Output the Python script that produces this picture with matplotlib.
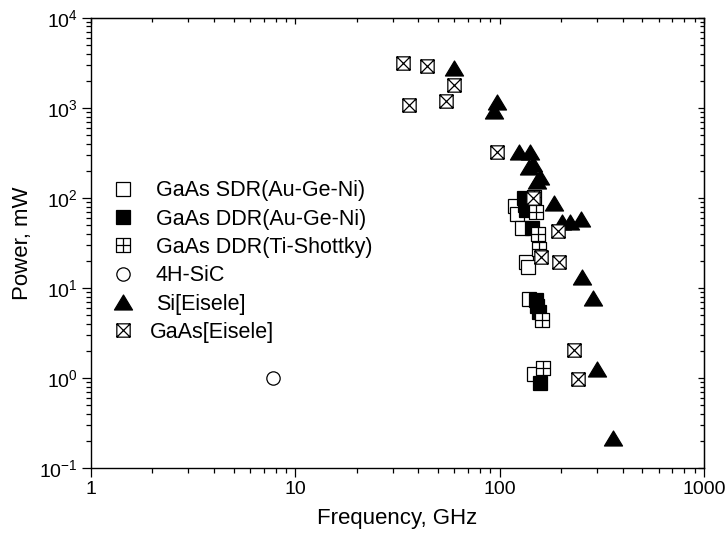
import numpy as np
import matplotlib
matplotlib.use("Agg")
import matplotlib.pyplot as plt
from matplotlib.path import Path

plt.rcParams['font.family'] = ['Liberation Sans', 'DejaVu Sans']
plt.rcParams['mathtext.fontset'] = 'custom'
plt.rcParams['mathtext.rm'] = 'Liberation Sans'
plt.rcParams['mathtext.it'] = 'Liberation Sans:italic'
plt.rcParams['mathtext.bf'] = 'Liberation Sans:bold'

# ---------------- data (frequency GHz, power mW) ----------------
sdr_f = [119, 122, 129, 134, 138, 139, 147]
sdr_p = [82, 67, 46, 19.6, 17.2, 7.6, 1.12]

ddr_f = [131, 133, 135, 144, 151, 153, 155, 157]
ddr_p = [100, 84, 73, 46, 7.4, 6.3, 5.4, 0.88]

ti_f = [148, 151, 154, 156, 161, 163]
ti_p = [103, 69, 40, 27, 4.4, 1.3]

sic_f = [7.75]
sic_p = [1.0]

si_f = [59.9, 97, 94, 124, 140, 139, 146, 157, 152, 184, 201, 220, 249, 253, 287, 298, 359]
si_p = [2750, 1150, 930, 324, 324, 222, 240, 172, 155, 88, 54.6, 54.6, 58, 13.2, 7.7, 1.26, 0.215]

ge_f = [33.5, 43.9, 59.9, 54.6, 35.9, 96.6, 146, 193, 160, 195, 232, 241]
ge_p = [3175, 2940, 1795, 1193, 1069, 326, 99, 43, 22.3, 19.6, 2.06, 0.97]

labels = ['GaAs SDR(Au-Ge-Ni)', 'GaAs DDR(Au-Ge-Ni)', 'GaAs DDR(Ti-Shottky)',
          '4H-SiC', 'Si[Eisele]', 'GaAs[Eisele]']

xticks = [1, 10, 100, 1000]
xticklabels = ['1', '10', '100', '1000']
yticks = [0.1, 1, 10, 100, 1000, 10000]
yticklabels = [r'$\mathregular{10^{-1}}$', r'$\mathregular{10^{0}}$', r'$\mathregular{10^{1}}$',
               r'$\mathregular{10^{2}}$', r'$\mathregular{10^{3}}$', r'$\mathregular{10^{4}}$']

# ---------------- markers ----------------
M, L, C = Path.MOVETO, Path.LINETO, Path.CLOSEPOLY
box_x = Path([(-1, -1), (1, -1), (1, 1), (-1, 1), (-1, -1),
              (-1, -1), (1, 1), (-1, 1), (1, -1)],
             [M, L, L, L, C, M, L, M, L])
box_plus = Path([(-1, -1), (1, -1), (1, 1), (-1, 1), (-1, -1),
                 (0, -1), (0, 1), (-1, 0), (1, 0)],
                [M, L, L, L, C, M, L, M, L])
tri = Path([(-1, -0.83), (1, -0.83), (0, 0.83), (-1, -0.83)], [M, L, L, C])

fig = plt.figure(figsize=(7.25, 5.38), dpi=100)
ax = fig.add_axes([0.1255, 0.1296, 0.8455, 0.8374])
ax.set_xscale('log')
ax.set_yscale('log')

ms = 9.6
mew = 0.9
ax.plot(sdr_f, sdr_p, ls='none', marker='s', ms=ms, mfc='white', mec='black', mew=mew, label=labels[0])
ax.plot(ddr_f, ddr_p, ls='none', marker='s', ms=ms, mfc='black', mec='black', mew=mew, label=labels[1])
ax.plot(ti_f, ti_p, ls='none', marker=box_plus, ms=ms, mfc='white', mec='black', mew=mew, label=labels[2])
ax.plot(sic_f, sic_p, ls='none', marker='o', ms=ms, mfc='white', mec='black', mew=mew, label=labels[3])
ax.plot(si_f, si_p, ls='none', marker=tri, ms=13, mfc='black', mec='black', mew=mew, label=labels[4])
ax.plot(ge_f, ge_p, ls='none', marker=box_x, ms=ms, mfc='white', mec='black', mew=mew, label=labels[5])

ax.set_xlim(1, 1000)
ax.set_ylim(0.1, 1e4)
ax.set_xticks(xticks)
ax.set_xticklabels(xticklabels)
ax.set_yticks(yticks)
ax.set_yticklabels(yticklabels)

for s in ax.spines.values():
    s.set_linewidth(1.0)
ax.tick_params(which='major', direction='out', length=6.5, width=0.9, labelsize=14, pad=3)
ax.tick_params(which='minor', direction='out', length=3.3, width=0.9)
ax.tick_params(top=False, right=False)

secx = ax.secondary_xaxis('top')
secx.tick_params(which='major', direction='in', length=4, width=0.9, labeltop=False)
secx.tick_params(which='minor', direction='in', length=3, width=0.9)
secx.set_xticks(xticks)
secx.set_xticklabels([])
secy = ax.secondary_yaxis('right')
secy.tick_params(which='major', direction='in', length=4, width=0.9, labelright=False)
secy.tick_params(which='minor', direction='in', length=3, width=0.9)
secy.set_yticks(yticks)
secy.set_yticklabels([])

ax.set_xlabel('Frequency, GHz', fontsize=16)
ax.set_ylabel('Power, mW', fontsize=16)
ax.xaxis.set_label_coords(0.5, -0.088)
ax.xaxis.label.set_va('top')
ax.yaxis.set_label_coords(-0.094, 0.5)

leg = ax.legend(loc='upper left', bbox_to_anchor=(0.0382, 0.639), frameon=False,
                fontsize=15.5, handlelength=0.8, handletextpad=1.13, labelspacing=0.34,
                borderpad=0, borderaxespad=0, numpoints=1)
leg.get_texts()[5].set_x(-6)

fig.savefig('out.png', dpi=100)
